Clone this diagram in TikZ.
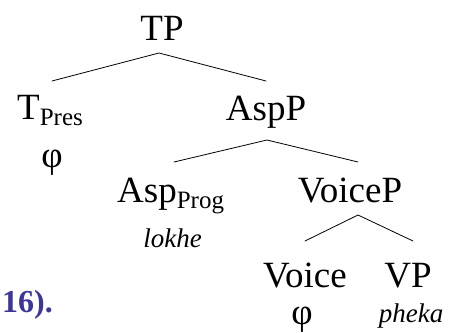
\documentclass[tikz,border=0pt]{standalone}
\usepackage{fontspec}
\setmainfont{Liberation Serif}
\usetikzlibrary{calc}
\definecolor{exnum}{RGB}{60,55,150}
\newcommand\subtxt[1]{\raisebox{-6bp}{\fontsize{25bp}{28bp}\selectfont #1}}
\begin{document}
\begin{tikzpicture}[x=1bp,y=1bp,
  cat/.style={font=\fontsize{37bp}{41bp}\selectfont, inner sep=0pt, anchor=base},
  lex/.style={font=\fontsize{27bp}{30bp}\selectfont\itshape, inner sep=0pt, anchor=base},
  branch/.style={line width=0.8bp, line cap=round}]
\useasboundingbox (0,0) rectangle (449,332);

% category labels
\node[cat] (TP) at (162,292) {TP};
\node[cat, anchor=base west] (TPres) at (17,213) {T\subtxt{Pres}};
\node[cat] (phiT) at (52,165) {φ};
\node[cat] (AspP) at (266,212) {AspP};
\node[cat, anchor=base west] (AspProg) at (117,130) {Asp\subtxt{Prog}};
\node[lex] (lokhe) at (172.5,85) {lokhe};
\node[cat] (VoiceP) at (350,130) {VoiceP};
\node[cat] (Voice) at (305,45) {Voice};
\node[cat] (VP) at (408,45) {VP};
\node[cat] (phiV) at (302,8) {φ};
\node[lex] (pheka) at (411,10) {pheka};

% example number
\node[font=\fontsize{32bp}{36bp}\selectfont\bfseries, text=exnum,
      inner sep=0pt, anchor=base west] (exno) at (2,20) {16).};

% branches
\draw[branch] ($(TPres.base west)+(35,38)$) -- ($(TP.base)+(-3,-13)$) -- ($(AspP.base)+(0,39)$);
\draw[branch] ($(AspProg.base west)+(57,40)$) -- ($(AspP.base)+(1,-20)$) -- ($(VoiceP.base)+(8,40)$);
\draw[branch] ($(Voice.base)+(0,46)$) -- ($(VoiceP.base)+(8,-13)$) -- ($(VP.base)+(5,46)$);
\end{tikzpicture}
\end{document}
